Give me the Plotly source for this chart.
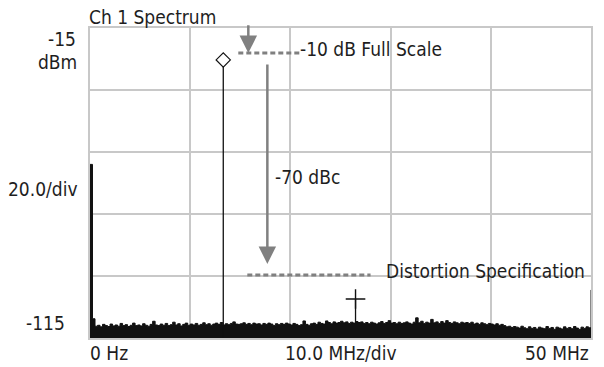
import plotly.graph_objects as go

# ---------------- data ----------------
freq_step_mhz = 0.25
noise_dbm = [
    -59.0, -108.8, -111.2, -110.9, -111.4, -110.6, -111.0, -111.3, -110.5, -111.1,
    -110.8, -111.2, -110.3, -111.0, -110.7, -111.3, -110.9, -110.2, -111.0, -110.8,
    -111.1, -110.4, -110.9, -111.2, -110.6, -109.6, -110.8, -111.0, -110.5, -110.9,
    -110.3, -111.0, -110.7, -109.9, -110.8, -110.4, -111.1, -110.6, -110.2, -110.9,
    -110.5, -110.8, -110.3, -110.9, -110.6, -110.1, -110.7, -110.4, -110.9, -110.5,
    -110.2, -110.6, -110.0, -110.8, -110.4, -110.7, -110.3, -109.8, -110.5, -110.6,
    -110.4, -110.1, -110.6, -110.3, -110.7, -110.2, -110.5, -110.4, -110.8, -110.3,
    -110.6, -110.2, -110.5, -111.0, -110.4, -110.7, -110.3, -110.6, -110.2, -110.5,
    -110.8, -110.3, -110.6, -111.0, -110.7, -109.5, -110.6, -110.9, -110.4, -110.2,
    -110.6, -109.9, -110.3, -110.5, -109.5, -110.0, -110.4, -109.8, -110.2, -110.0,
    -109.6, -110.1, -109.8, -110.3, -109.9, -110.2, -109.7, -110.0, -109.8, -110.3,
    -110.0, -110.4, -109.9, -110.2, -110.5, -110.1, -109.7, -110.3, -110.0, -109.4,
    -110.2, -110.0, -110.4, -109.9, -110.3, -110.1, -109.8, -110.2, -110.5, -109.9,
    -108.5, -110.1, -109.6, -110.3, -109.9, -110.2, -109.0, -110.1, -109.8, -110.3,
    -109.7, -110.2, -109.4, -110.0, -110.3, -109.8, -110.1, -110.4, -109.9, -110.2,
    -110.0, -110.3, -109.9, -110.5, -110.2, -110.6, -110.1, -110.4, -110.7, -110.3,
    -110.5, -110.8, -110.4, -110.9, -110.6, -111.0, -111.4, -111.2, -111.6, -111.3,
    -111.5, -111.8, -111.2, -111.7, -112.0, -111.4, -111.9, -111.6, -112.1, -111.5,
    -111.8, -112.0, -111.3, -111.9, -111.6, -112.2, -111.5, -111.8, -112.1, -111.4,
    -111.9, -111.6, -112.0, -111.3, -111.8, -112.2, -111.5, -111.9, -111.4, -111.7,
    -99.5,
]
noise_freq_mhz = [i * freq_step_mhz for i in range(len(noise_dbm))]

fundamental_freq_mhz = [13.3]
fundamental_dbm = [-25.3]
harmonic_freq_mhz = [26.5]
harmonic_dbm = [-102.4]

x_range_mhz = [0, 50]
y_range_dbm = [-115, -15]
x_div = 10
y_div = 20

full_scale_dbm = -23.1
spec_dbm = -94.7

# ---------------- style ----------------
FONT = "DejaVu Sans Condensed, DejaVu Sans, sans-serif"
TXT = "#1e1e1e"
GRAY = "#808080"
GRID = "#c8c8c8"
FS = 19

fig = go.Figure()

# baseline for the filled noise floor
fig.add_trace(go.Scatter(x=[x_range_mhz[0], x_range_mhz[1]], y=[y_range_dbm[0] - 2, y_range_dbm[0] - 2],
                         mode="lines", line=dict(width=0, color="#111"), hoverinfo="skip",
                         showlegend=False))
fig.add_trace(go.Scatter(x=noise_freq_mhz, y=noise_dbm, mode="lines",
                         line=dict(color="#111111", width=1, shape="hv"),
                         fill="tonexty", fillcolor="#111111", showlegend=False))

# fundamental spike
for f, a in zip(fundamental_freq_mhz, fundamental_dbm):
    fig.add_trace(go.Scatter(x=[f, f], y=[y_range_dbm[0], a], mode="lines",
                             line=dict(color="#111111", width=1.3), showlegend=False))
fig.add_trace(go.Scatter(x=fundamental_freq_mhz, y=fundamental_dbm, mode="markers",
                         marker=dict(symbol="diamond", size=11, color="white",
                                     line=dict(color="#111111", width=1.2)),
                         showlegend=False))
# harmonic spike
for f, a in zip(harmonic_freq_mhz, harmonic_dbm):
    fig.add_trace(go.Scatter(x=[f, f], y=[y_range_dbm[0], a], mode="lines",
                             line=dict(color="#111111", width=1.3), showlegend=False))
fig.add_trace(go.Scatter(x=harmonic_freq_mhz, y=harmonic_dbm, mode="markers",
                         marker=dict(symbol="cross-thin", size=14,
                                     line=dict(color="#111111", width=1.4)),
                         showlegend=False))

# dashed reference lines
fig.add_shape(type="line", x0=14.8, x1=20.9, y0=full_scale_dbm, y1=full_scale_dbm,
              line=dict(color=GRAY, width=3, dash="5px,3px"))
fig.add_shape(type="line", x0=15.7, x1=28.0, y0=spec_dbm, y1=spec_dbm,
              line=dict(color=GRAY, width=3, dash="5px,3px"))

annotations = []
# arrows
annotations.append(dict(x=15.8, y=full_scale_dbm, ax=15.8, ay=-13.6, xref="x", yref="y",
                        axref="x", ayref="y", text="", showarrow=True, arrowhead=2,
                        arrowsize=1.4, arrowwidth=2.5, arrowcolor=GRAY))
annotations.append(dict(x=17.7, y=-91.1, ax=17.7, ay=-26.3, xref="x", yref="y",
                        axref="x", ayref="y", text="", showarrow=True, arrowhead=2,
                        arrowsize=1.4, arrowwidth=2.5, arrowcolor=GRAY))

def txt(text, **kw):
    d = dict(text=text, showarrow=False, font=dict(family=FONT, size=FS, color=TXT))
    d.update(kw)
    annotations.append(d)

txt("-10 dB Full Scale", x=20.8, y=-21.8, xref="x", yref="y", xanchor="left", yanchor="middle")
txt("-70 dBc", x=18.3, y=-63.1, xref="x", yref="y", xanchor="left", yanchor="middle")
txt("Distortion Specification", x=29.3, y=-93.4, xref="x", yref="y", xanchor="left", yanchor="middle")

txt("Ch 1 Spectrum", x=0, y=1, xref="paper", yref="paper", xanchor="left", yanchor="bottom",
    xshift=-3, yshift=-2)
txt("-15", x=0, y=-18.6, xref="paper", yref="y", xanchor="right", yanchor="middle", xshift=-12)
txt("dBm", x=0, y=-26.0, xref="paper", yref="y", xanchor="right", yanchor="middle", xshift=-11)
txt("20.0/div", x=0, y=-66.9, xref="paper", yref="y", xanchor="right", yanchor="middle", xshift=-10)
txt("-115", x=0, y=-110.2, xref="paper", yref="y", xanchor="right", yanchor="middle", xshift=-23)
txt("0 Hz", x=x_range_mhz[0], y=0, xref="x", yref="paper", xanchor="left", yanchor="top",
    xshift=-2, yshift=-2)
txt("10.0 MHz/div", x=(x_range_mhz[0] + x_range_mhz[1]) / 2, y=0, xref="x", yref="paper",
    xanchor="center", yanchor="top", yshift=-2)
txt("50 MHz", x=x_range_mhz[1], y=0, xref="x", yref="paper", xanchor="right", yanchor="top",
    xshift=0, yshift=-2)

axis_common = dict(showgrid=True, gridcolor=GRID, gridwidth=1.5, showticklabels=False,
                   ticks="", zeroline=False, showline=True, linecolor=GRID, linewidth=1.5,
                   mirror=True, layer="below traces", fixedrange=True)

fig.update_layout(
    width=604, height=367, autosize=False,
    margin=dict(l=90, r=11, t=28, b=29),
    paper_bgcolor="white", plot_bgcolor="white",
    xaxis=dict(range=x_range_mhz, dtick=x_div, tick0=0, **axis_common),
    yaxis=dict(range=y_range_dbm, dtick=y_div, tick0=-115, **axis_common),
    annotations=annotations,
    showlegend=False,
)

fig.write_html("out.html")
